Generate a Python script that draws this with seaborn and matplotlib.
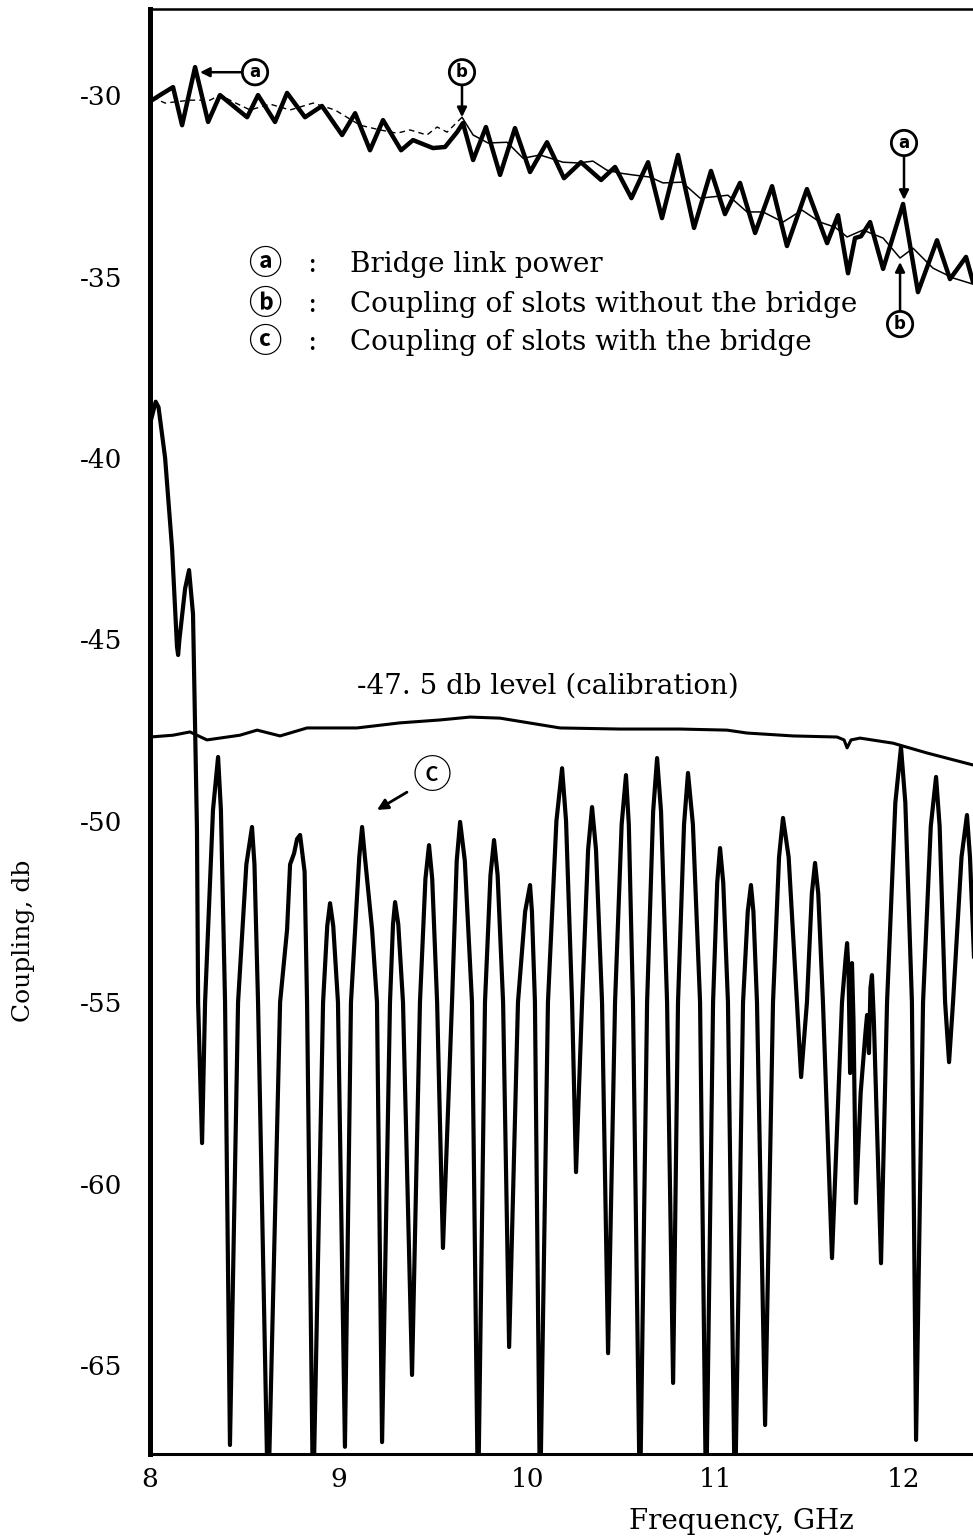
import matplotlib
matplotlib.use('Agg')
import matplotlib.pyplot as plt
import pandas as pd
import seaborn as sns

# ---- data (frequency in GHz, coupling in db) ----

# (a) bridge link power (thick trace at the top)
freq_a = [8.011, 8.053, 8.122, 8.170, 8.239, 8.308, 8.371, 8.515, 8.573, 8.663,
          8.727, 8.822, 8.912, 9.019, 9.088, 9.167, 9.236, 9.332, 9.395, 9.501,
          9.565, 9.629, 9.660, 9.714, 9.782, 9.857, 9.936, 10.016, 10.106, 10.196,
          10.286, 10.393, 10.467, 10.554, 10.642, 10.716, 10.801, 10.886, 10.976, 11.050,
          11.130, 11.210, 11.300, 11.379, 11.485, 11.592, 11.650, 11.703, 11.740, 11.772,
          11.820, 11.889, 11.995, 12.074, 12.175, 12.244, 12.329, 12.366]
db_a = [-30.14, -30.00, -29.78, -30.83, -29.23, -30.74, -30.00, -30.61, -30.00, -30.74,
        -29.94, -30.61, -30.30, -31.10, -30.50, -31.52, -30.69, -31.52, -31.24, -31.46,
        -31.43, -31.02, -30.77, -31.79, -30.88, -32.20, -30.91, -32.12, -31.30, -32.29,
        -31.85, -32.34, -31.98, -32.84, -31.85, -33.39, -31.65, -33.66, -32.09, -33.28,
        -32.42, -33.80, -32.51, -34.16, -32.59, -34.08, -33.31, -34.91, -33.94, -33.89,
        -33.50, -34.79, -33.00, -35.43, -34.00, -35.07, -34.46, -35.15]

# (b) coupling of slots without the bridge (thin trace)
freq_b = [8.011, 8.080, 8.212, 8.318, 8.371, 8.435, 8.531, 8.637, 8.743, 8.865,
          8.981, 9.114, 9.220, 9.310, 9.379, 9.469, 9.523, 9.576, 9.655, 9.714,
          9.793, 9.894, 9.979, 10.069, 10.191, 10.271, 10.350, 10.424, 10.493, 10.562,
          10.653, 10.721, 10.822, 10.918, 11.066, 11.167, 11.252, 11.358, 11.459, 11.554,
          11.634, 11.698, 11.782, 11.889, 11.979, 12.048, 12.154, 12.260, 12.366]
db_b = [-30.06, -30.22, -30.14, -30.14, -30.00, -30.17, -30.41, -30.25, -30.41, -30.22,
        -30.41, -30.83, -30.96, -31.05, -30.96, -31.10, -30.88, -31.02, -30.61, -31.10,
        -31.32, -31.30, -31.74, -31.65, -31.85, -31.87, -31.82, -32.07, -32.15, -32.20,
        -32.26, -32.42, -32.40, -32.84, -32.76, -33.22, -33.22, -33.50, -33.17, -33.50,
        -33.64, -33.91, -33.72, -33.94, -34.49, -34.22, -34.77, -35.04, -35.21]

# (c) coupling of slots with the bridge (deep nulls go below the frame)
freq_c = [8.003, 8.030, 8.045, 8.080, 8.117, 8.143, 8.149, 8.156, 8.186, 8.207, 8.228, 8.249, 8.255, 8.276,
          8.292, 8.334, 8.361, 8.376, 8.398, 8.424,
          8.467, 8.511, 8.541, 8.554, 8.573, 8.626,
          8.690, 8.727, 8.743, 8.764, 8.780, 8.796, 8.820, 8.833, 8.865,
          8.918, 8.940, 8.955, 8.972, 8.997, 9.034,
          9.066, 9.110, 9.125, 9.140, 9.157, 9.178, 9.204, 9.231,
          9.273, 9.289, 9.300, 9.317, 9.342, 9.390,
          9.432, 9.461, 9.480, 9.497, 9.523, 9.554,
          9.602, 9.627, 9.645, 9.670, 9.708, 9.740,
          9.777, 9.806, 9.825, 9.844, 9.873, 9.905,
          9.952, 9.990, 10.016, 10.026, 10.042, 10.069,
          10.111, 10.156, 10.186, 10.207, 10.239, 10.260,
          10.292, 10.324, 10.345, 10.366, 10.398, 10.430,
          10.467, 10.502, 10.525, 10.540, 10.562, 10.599,
          10.637, 10.669, 10.690, 10.711, 10.743, 10.775,
          10.801, 10.833, 10.854, 10.880, 10.918, 10.950,
          10.987, 11.009, 11.024, 11.041, 11.066, 11.103,
          11.146, 11.171, 11.188, 11.201, 11.220, 11.263,
          11.305, 11.337, 11.358, 11.388, 11.432, 11.454,
          11.485, 11.511, 11.528, 11.545, 11.570, 11.618,
          11.671, 11.690, 11.698, 11.706, 11.714, 11.720, 11.724, 11.732, 11.745,
          11.770, 11.796, 11.804, 11.814, 11.822, 11.830, 11.840, 11.878,
          11.910, 11.954, 11.984, 12.007, 12.042, 12.064,
          12.101, 12.142, 12.170, 12.189, 12.218, 12.239,
          12.260, 12.305, 12.334, 12.350, 12.377]
db_c = [-39.0, -38.45, -38.6, -40.0, -42.5, -45.2, -45.43, -45.0, -43.6, -43.09, -44.3, -50.25, -55.0, -58.88,
        -55.0, -49.7, -48.24, -49.7, -55.0, -67.2,
        -55.0, -51.2, -50.17, -51.2, -55.0, -69.0,
        -55.0, -53.0, -51.2, -50.9, -50.5, -50.39, -51.4, -55.0, -69.0,
        -55.0, -52.9, -52.27, -52.9, -55.0, -67.25,
        -55.0, -51.0, -50.17, -51.0, -51.9, -53.0, -55.0, -67.12,
        -55.0, -52.85, -52.24, -52.85, -55.0, -65.27,
        -55.0, -51.6, -50.67, -51.6, -55.0, -61.77,
        -55.0, -51.1, -50.03, -51.1, -55.0, -69.0,
        -55.0, -51.5, -50.53, -51.5, -55.0, -64.5,
        -55.0, -52.5, -51.77, -52.5, -55.0, -69.0,
        -55.0, -50.0, -48.55, -50.0, -55.0, -59.68,
        -55.0, -50.8, -49.62, -50.8, -55.0, -64.67,
        -55.0, -50.1, -48.74, -50.1, -55.0, -69.0,
        -55.0, -49.75, -48.27, -49.75, -55.0, -65.49,
        -55.0, -50.1, -48.68, -50.1, -55.0, -69.0,
        -55.0, -51.7, -50.75, -51.7, -55.0, -69.0,
        -55.0, -52.5, -51.77, -52.5, -55.0, -66.65,
        -55.0, -51.0, -49.92, -51.0, -55.0, -57.06,
        -55.0, -52.0, -51.16, -52.0, -55.0, -62.05,
        -55.0, -53.8, -53.37, -54.2, -56.95, -54.3, -53.92, -55.5, -60.53,
        -57.5, -55.8, -55.35, -56.4, -54.6, -54.25, -55.5, -62.19,
        -55.0, -49.5, -47.97, -49.5, -55.0, -67.06,
        -55.0, -50.15, -48.79, -50.15, -55.0, -56.65,
        -55.0, -51.0, -49.84, -51.0, -54.5]

# -47.5 db calibration level
freq_cal = [8.000, 8.122, 8.212, 8.302, 8.477, 8.568, 8.690, 8.833, 9.098, 9.326,
            9.538, 9.698, 9.857, 10.175, 10.493, 10.812, 11.061, 11.167, 11.411, 11.645,
            11.682, 11.698, 11.719, 11.767, 11.942, 12.122, 12.366]
db_cal = [-47.69, -47.64, -47.55, -47.77, -47.64, -47.50, -47.66, -47.44, -47.44, -47.30,
          -47.22, -47.14, -47.17, -47.44, -47.47, -47.47, -47.50, -47.58, -47.66, -47.69,
          -47.77, -47.99, -47.77, -47.72, -47.86, -48.13, -48.46]

x_ticks = [8, 9, 10, 11, 12]
y_ticks = [-30, -35, -40, -45, -50, -55, -60, -65]

legend_marks = ['\u24d0', '\u24d1', '\u24d2']
legend_texts = ['Bridge link power',
                'Coupling of slots without the bridge',
                'Coupling of slots with the bridge']

sns.set_style('white')
plt.rcParams['font.family'] = ['DejaVu Serif', 'DejaVu Sans']
plt.rcParams['axes.unicode_minus'] = False
for key in ['text.color', 'axes.labelcolor', 'xtick.color', 'ytick.color']:
    plt.rcParams[key] = 'black'

# the circled letters only exist in the CJK families
circled_font = ['Noto Sans CJK JP', 'DejaVu Sans']

fig = plt.figure(figsize=(9.73, 15.4), dpi=100)
ax = fig.add_axes([0.1542, 0.0558, 0.8458, 0.9383])


def trace(f, d, lw, **kw):
    df = pd.DataFrame({'freq': f, 'db': d})
    sns.lineplot(data=df, x='freq', y='db', ax=ax, color='black', linewidth=lw,
                 sort=False, estimator=None, solid_joinstyle='round',
                 solid_capstyle='round', **kw)


# thin trace is faint / broken in the first part of the scan
n_dash = freq_b.index(9.655) + 1
trace(freq_b[:n_dash], db_b[:n_dash], 1.0, linestyle=(0, (4, 3)))
trace(freq_b[n_dash - 1:], db_b[n_dash - 1:], 1.1)
trace(freq_a, db_a, 3.2)
trace(freq_cal, db_cal, 2.2)
trace(freq_c, db_c, 3.0)

ax.set_xlim(8.0, 12.366)
ax.set_ylim(-67.45, -27.63)
ax.set_xticks(x_ticks)
ax.set_yticks(y_ticks)
ax.tick_params(axis='y', direction='in', length=12, width=2.2, labelsize=19, pad=20)
ax.tick_params(axis='x', direction='in', length=11, width=2.0, labelsize=19, pad=9)

ax.spines['left'].set_linewidth(3.6)
ax.spines['bottom'].set_linewidth(2.2)
ax.spines['top'].set_linewidth(1.8)
ax.spines['right'].set_visible(False)
for s in ['left', 'bottom', 'top']:
    ax.spines[s].set_color('black')

ax.set_xlabel('Frequency, GHz', fontsize=20)
ax.xaxis.set_label_coords(0.718, -0.037)
ax.set_ylabel('Coupling, db', fontsize=18)
ax.yaxis.set_label_coords(-0.14, 0.355)

# legend written inside the plot
for mark, txt, y in zip(legend_marks, legend_texts, [-34.68, -35.76, -36.83]):
    ax.text(8.610, y, mark, ha='center', va='center', fontsize=24, fontweight='bold',
            family=circled_font)
    ax.text(8.859, y, ':', ha='center', va='center', fontsize=20)
    ax.text(9.061, y, txt, ha='left', va='center', fontsize=20)

ax.text(9.098, -46.29, '-47. 5 db level (calibration)', ha='left', va='center', fontsize=20)

# circled markers with arrows
circ = dict(boxstyle='circle,pad=0.22', fc='white', ec='black', lw=2)
arr = dict(arrowstyle='-|>', color='black', lw=1.8, mutation_scale=14, shrinkA=0, shrinkB=0)
marks = [('a', (8.265, -29.37), (8.557, -29.37)),
         ('b', (9.655, -30.61), (9.655, -29.37)),
         ('a', (12.0, -32.89), (12.0, -31.32)),
         ('b', (11.979, -34.60), (11.979, -36.31))]
for lab, tip, pos in marks:
    ax.annotate(lab, xy=tip, xytext=pos, ha='center', va='center', fontsize=12,
                fontweight='bold', family=['DejaVu Sans'], bbox=circ, arrowprops=arr)

ax.text(9.496, -48.79, '\u24d2', ha='center', va='center', fontsize=28, family=circled_font)
ax.annotate('', xy=(9.204, -49.70), xytext=(9.363, -49.21),
            arrowprops=dict(arrowstyle='-|>', color='black', lw=2, mutation_scale=16,
                            shrinkA=0, shrinkB=0))

fig.savefig('out.png', dpi=100)
